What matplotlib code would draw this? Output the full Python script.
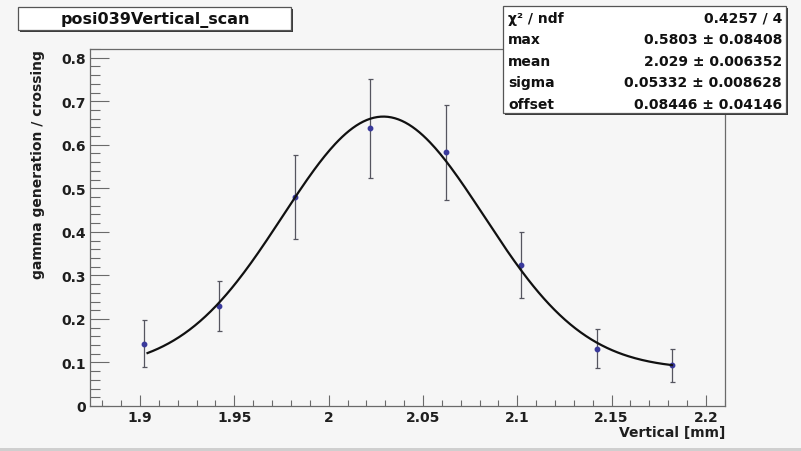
import numpy as np
import matplotlib
matplotlib.use("Agg")
import matplotlib.pyplot as plt
from matplotlib.patches import Rectangle
from matplotlib.ticker import MultipleLocator, FuncFormatter

# Measured scan points (vertical position in mm) and gamma yield per crossing
position = [1.902, 1.942, 1.982, 2.022, 2.062, 2.102, 2.142, 2.182]
gamma_rate = [0.143, 0.230, 0.480, 0.638, 0.583, 0.324, 0.132, 0.094]
gamma_err = [0.054, 0.058, 0.097, 0.114, 0.109, 0.075, 0.044, 0.038]

# Gaussian + constant fit result
fit_max, fit_max_err = 0.5803, 0.08408
fit_mean, fit_mean_err = 2.029, 0.006352
fit_sigma, fit_sigma_err = 0.05332, 0.008628
fit_offset, fit_offset_err = 0.08446, 0.04146
chi2, ndf = 0.4257, 4
fit_range = (1.904, 2.182)

title = "posi039Vertical_scan"
x_title = "Vertical [mm]"
y_title = "gamma generation / crossing"

W, H = 801, 452
BG = "#f6f6f6"
FONT = "DejaVu Sans"
TXT = "#1e1e1e"

fig = plt.figure(figsize=(W / 100, H / 100), dpi=100, facecolor=BG)


def fx(px):
    return px / W


def fy(py):
    return 1 - py / H


# plotting frame in pixel coordinates
L, R, T, B = 90, 725, 50, 407
ax = fig.add_axes([fx(L), fy(B), fx(R) - fx(L), fy(T) - fy(B)])
ax.set_facecolor(BG)
ax.set_xlim(1.8735, 2.2101)
ax.set_ylim(0, 0.82)

for side in ("top", "right", "left", "bottom"):
    ax.spines[side].set_color("#6a6a6a")
    ax.spines[side].set_linewidth(0.9)

ax.xaxis.set_major_locator(MultipleLocator(0.05))
ax.xaxis.set_minor_locator(MultipleLocator(0.01))
ax.yaxis.set_major_locator(MultipleLocator(0.1))
ax.yaxis.set_minor_locator(MultipleLocator(0.02))
ax.tick_params(axis="x", which="major", direction="in", length=8, width=0.8,
               color="#6a6a6a", pad=3, top=False)
ax.tick_params(axis="x", which="minor", direction="in", length=4, width=0.8,
               color="#6a6a6a", top=False)
ax.tick_params(axis="y", which="major", direction="in", length=14, width=0.8,
               color="#6a6a6a", pad=3, right=False)
ax.tick_params(axis="y", which="minor", direction="in", length=7, width=0.8,
               color="#6a6a6a", right=False)

ax.xaxis.set_major_formatter(FuncFormatter(lambda v, p: f"{v:g}"))
ax.yaxis.set_major_formatter(FuncFormatter(lambda v, p: f"{v:g}"))
for lab in ax.get_xticklabels() + ax.get_yticklabels():
    lab.set_fontfamily(FONT)
    lab.set_fontweight("bold")
    lab.set_fontsize(10)
    lab.set_color(TXT)

# data with error bars
ax.errorbar(position, gamma_rate, yerr=gamma_err, fmt="o", ms=3.2,
            mfc="#3a3a9c", mec="#3a3a9c", ecolor="#55555f", elinewidth=0.9,
            capsize=1.8, capthick=0.9, zorder=3)

# fitted function
xf = np.linspace(fit_range[0], fit_range[1], 300)
yf = fit_offset + fit_max * np.exp(-0.5 * ((xf - fit_mean) / fit_sigma) ** 2)
ax.plot(xf, yf, color="#111111", lw=1.6, zorder=4)

# axis titles
fig.text(fx(R), fy(426), x_title, ha="right", va="top", fontsize=10,
         fontfamily=FONT, fontweight="bold", color=TXT)
fig.text(fx(38), fy(T), y_title, ha="center", va="top", rotation=90,
         fontsize=10, fontfamily=FONT, fontweight="bold", color=TXT)


def pave(x0, y0, x1, y1, shadow=3):
    # drop shadow then white box with dark border
    fig.patches.append(Rectangle((fx(x0 + shadow), fy(y1 + shadow)),
                                 fx(x1 - x0), fy(y0) - fy(y1),
                                 transform=fig.transFigure, facecolor="#3a3a3a",
                                 edgecolor="none", zorder=5))
    fig.patches.append(Rectangle((fx(x0), fy(y1)), fx(x1 - x0), fy(y0) - fy(y1),
                                 transform=fig.transFigure, facecolor="white",
                                 edgecolor="#555555", lw=0.9, zorder=6))


# title box
pave(18, 8, 291, 31, shadow=2)
fig.text(fx(155), fy(20), title, ha="center", va="center", fontsize=11.5,
         fontfamily=FONT, fontweight="bold", color="#111111", zorder=7)

# fit statistics box
pave(503, 7, 786, 114, shadow=2)
rows = [
    ("χ² / ndf", f"{chi2:g} / {ndf}"),
    ("max", f"{fit_max:g} ± {fit_max_err:g}"),
    ("mean", f"{fit_mean:g} ± {fit_mean_err:g}"),
    ("sigma", f"{fit_sigma:g} ± {fit_sigma_err:g}"),
    ("offset", f"{fit_offset:g} ± {fit_offset_err:g}"),
]
for i, (name, val) in enumerate(rows):
    yy = 19 + i * 21.4
    fig.text(fx(508), fy(yy), name, ha="left", va="center", fontsize=10,
             fontfamily=FONT, fontweight="bold", color="#111111", zorder=7)
    fig.text(fx(782), fy(yy), val, ha="right", va="center", fontsize=10,
             fontfamily=FONT, fontweight="bold", color="#111111", zorder=7)

# canvas bottom edge
fig.patches.append(Rectangle((0, 0), 1, fy(449), transform=fig.transFigure,
                             facecolor="#cfcfcf", edgecolor="none", zorder=1))

fig.savefig("out.png", dpi=100, facecolor=BG)
